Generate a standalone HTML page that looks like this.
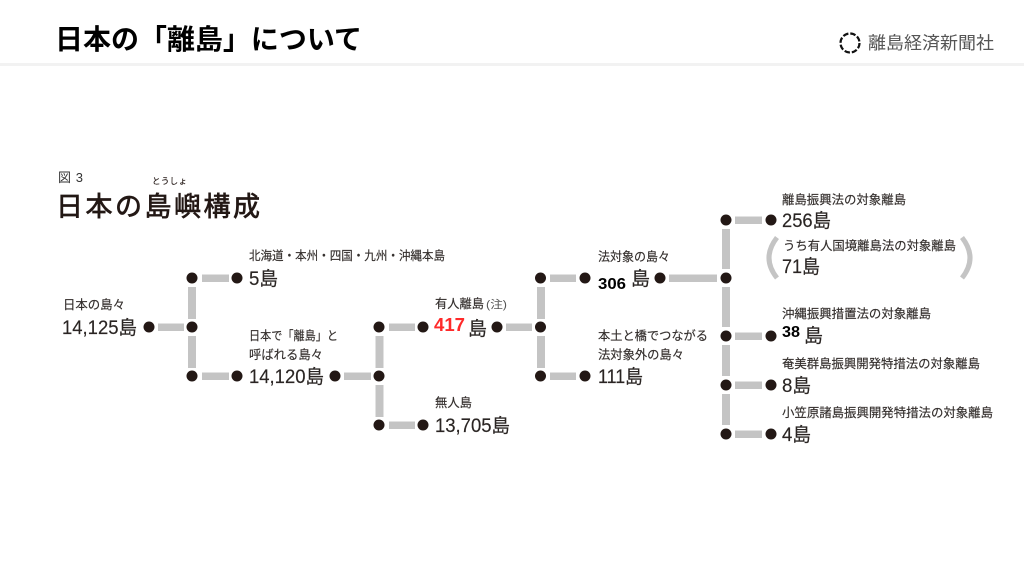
<!DOCTYPE html>
<html lang="ja"><head><meta charset="utf-8"><style>
html,body{margin:0;padding:0;background:#fff;width:1024px;height:576px;overflow:hidden}
svg{display:block}
text{font-family:"Liberation Sans","Noto Sans CJK JP",sans-serif;fill:#231815}
.l{font-size:12.4px;fill:#332e2c;stroke:#332e2c;stroke-width:.15px}
.n{font-size:19px;fill:#2a2523;stroke:#2a2523;stroke-width:.15px}
.k{font-size:19px;fill:#2a2523;stroke:#2a2523;stroke-width:.15px}
.b{font-weight:bold;fill:#000;font-size:16px}
</style></head><body>
<svg width="1024" height="576" viewBox="0 0 1024 576" xmlns="http://www.w3.org/2000/svg">
<rect x="0" y="63" width="1024" height="3" fill="#f2f2f2"/>
<text x="55" y="49" font-size="28" font-weight="bold" style="fill:#000" textLength="307" lengthAdjust="spacingAndGlyphs">日本の「離島」について</text>
<circle cx="850" cy="43" r="9.500" fill="none" stroke="#111" stroke-width="2.200" stroke-dasharray="5.500 1.960"/>
<text x="868" y="49" font-size="17.500" style="fill:#555" textLength="126" lengthAdjust="spacingAndGlyphs">離島経済新聞社</text>

<text x="58" y="182" font-size="13" style="fill:#333" textLength="25">図 3</text>
<text x="152" y="184" font-size="8.500" textLength="35" style="stroke:#231815;stroke-width:.15px">とうしょ</text>
<text x="56" y="216" font-size="27" style="stroke:#231815;stroke-width:.7px" textLength="204">日本の島嶼構成</text>

<g fill="#c4c4c4">
<rect x="158" y="323.500" width="26" height="7.500"/>
<rect x="202" y="274.500" width="27" height="7.500"/>
<rect x="202" y="372.500" width="27" height="7.500"/>
<rect x="188" y="287" width="8" height="32"/>
<rect x="188" y="336" width="8" height="32"/>
<rect x="344" y="372.500" width="27" height="7.500"/>
<rect x="389" y="323.500" width="26" height="7.500"/>
<rect x="389" y="421.500" width="26" height="7.500"/>
<rect x="375.500" y="336" width="8" height="32"/>
<rect x="375.500" y="385" width="8" height="32"/>
<rect x="506" y="323.500" width="26" height="7.500"/>
<rect x="550" y="274.500" width="26" height="7.500"/>
<rect x="550" y="372.500" width="26" height="7.500"/>
<rect x="537" y="287" width="8" height="32"/>
<rect x="537" y="336" width="8" height="32"/>
<rect x="669" y="274.500" width="48" height="7.500"/>
<rect x="735" y="216.500" width="27" height="7.500"/>
<rect x="735" y="332.500" width="27" height="7.500"/>
<rect x="735" y="381.500" width="27" height="7.500"/>
<rect x="735" y="430.500" width="27" height="7.500"/>
<rect x="722" y="229" width="8" height="40"/>
<rect x="722" y="287" width="8" height="40"/>
<rect x="722" y="345" width="8" height="31"/>
<rect x="722" y="394" width="8" height="31"/>
</g>

<g fill="#231815">
<circle cx="149" cy="327" r="5.500"/>
<circle cx="192" cy="278" r="5.500"/><circle cx="237" cy="278" r="5.500"/>
<circle cx="192" cy="327" r="5.500"/>
<circle cx="192" cy="376" r="5.500"/><circle cx="237" cy="376" r="5.500"/>
<circle cx="335" cy="376" r="5.500"/>
<circle cx="379" cy="327" r="5.500"/><circle cx="423" cy="327" r="5.500"/>
<circle cx="379" cy="376" r="5.500"/>
<circle cx="379" cy="425" r="5.500"/><circle cx="423" cy="425" r="5.500"/>
<circle cx="497" cy="327" r="5.500"/>
<circle cx="540.500" cy="278" r="5.500"/><circle cx="585" cy="278" r="5.500"/>
<circle cx="540.500" cy="327" r="5.500"/>
<circle cx="540.500" cy="376" r="5.500"/><circle cx="585" cy="376" r="5.500"/>
<circle cx="660" cy="278" r="5.500"/>
<circle cx="726" cy="220" r="5.500"/><circle cx="771" cy="220" r="5.500"/>
<circle cx="726" cy="278" r="5.500"/>
<circle cx="726" cy="336" r="5.500"/><circle cx="771" cy="336" r="5.500"/>
<circle cx="726" cy="385" r="5.500"/><circle cx="771" cy="385" r="5.500"/>
<circle cx="726" cy="434" r="5.500"/><circle cx="771" cy="434" r="5.500"/>
</g>

<path d="M777 237.500Q761 258 777 278" fill="none" stroke="#c4c4c4" stroke-width="5"/>
<path d="M962 237.500Q978 258 962 278" fill="none" stroke="#c4c4c4" stroke-width="5"/>

<text class="l" x="63" y="309" textLength="62" lengthAdjust="spacingAndGlyphs">日本の島々</text>
<text class="n" x="62" y="334" textLength="75" lengthAdjust="spacingAndGlyphs">14,125島</text>

<text class="l" x="249" y="260" textLength="196" lengthAdjust="spacingAndGlyphs">北海道・本州・四国・九州・沖縄本島</text>
<text class="n" x="249" y="285" textLength="29" lengthAdjust="spacingAndGlyphs">5島</text>

<text class="l" x="249" y="340" textLength="89" lengthAdjust="spacingAndGlyphs">日本で「離島」と</text>
<text class="l" x="249" y="359" textLength="74" lengthAdjust="spacingAndGlyphs">呼ばれる島々</text>
<text class="n" x="249" y="383" textLength="75" lengthAdjust="spacingAndGlyphs">14,120島</text>

<text class="l" x="435" y="308" textLength="49" lengthAdjust="spacingAndGlyphs">有人離島</text>
<text x="486" y="308" font-size="11" style="fill:#555" textLength="21" lengthAdjust="spacingAndGlyphs">(注)</text>
<text x="434" y="331" font-size="18" font-weight="bold" style="fill:#ff2a2a" textLength="31" lengthAdjust="spacingAndGlyphs">417</text>
<text class="k" x="468" y="335">島</text>

<text class="l" x="435" y="407" textLength="37" lengthAdjust="spacingAndGlyphs">無人島</text>
<text class="n" x="435" y="432" textLength="75" lengthAdjust="spacingAndGlyphs">13,705島</text>

<text class="l" x="598" y="261" textLength="72" lengthAdjust="spacingAndGlyphs">法対象の島々</text>
<text class="b" x="598" y="289" textLength="28" lengthAdjust="spacingAndGlyphs">306</text>
<text class="k" x="631" y="285">島</text>

<text class="l" x="598" y="340" textLength="110" lengthAdjust="spacingAndGlyphs">本土と橋でつながる</text>
<text class="l" x="598" y="359" textLength="86" lengthAdjust="spacingAndGlyphs">法対象外の島々</text>
<text class="n" x="598" y="383" textLength="45" lengthAdjust="spacingAndGlyphs">111島</text>

<text class="l" x="782" y="204" textLength="124" lengthAdjust="spacingAndGlyphs">離島振興法の対象離島</text>
<text class="n" x="782" y="227" textLength="49" lengthAdjust="spacingAndGlyphs">256島</text>
<text class="l" x="783" y="250" textLength="173" lengthAdjust="spacingAndGlyphs">うち有人国境離島法の対象離島</text>
<text class="n" x="782" y="273" textLength="38" lengthAdjust="spacingAndGlyphs">71島</text>

<text class="l" x="782" y="318" textLength="149" lengthAdjust="spacingAndGlyphs">沖縄振興措置法の対象離島</text>
<text class="b" x="782" y="337" textLength="18" lengthAdjust="spacingAndGlyphs">38</text>
<text class="k" x="804" y="342">島</text>

<text class="l" x="782" y="368" textLength="198" lengthAdjust="spacingAndGlyphs">奄美群島振興開発特措法の対象離島</text>
<text class="n" x="782" y="392" textLength="29" lengthAdjust="spacingAndGlyphs">8島</text>

<text class="l" x="782" y="417" textLength="211" lengthAdjust="spacingAndGlyphs">小笠原諸島振興開発特措法の対象離島</text>
<text class="n" x="782" y="441" textLength="29" lengthAdjust="spacingAndGlyphs">4島</text>
</svg>
</body></html>
